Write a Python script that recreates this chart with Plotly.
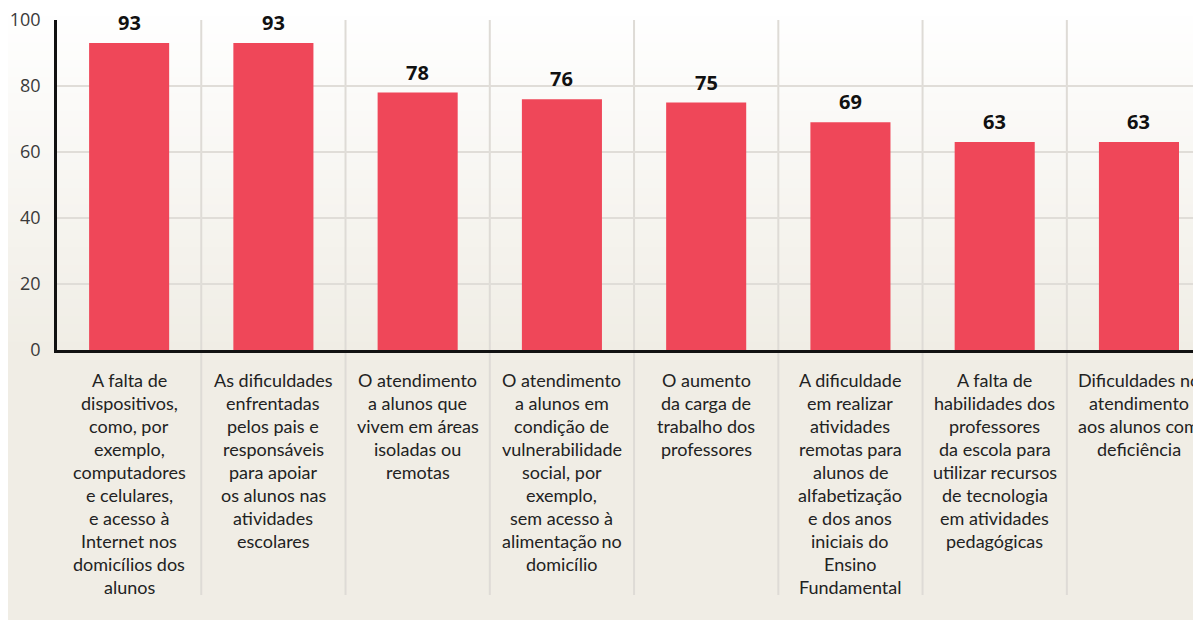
import plotly.graph_objects as go

categories = [
    ["A falta de", "dispositivos,", "como, por", "exemplo,", "computadores", "e celulares,",
     "e acesso à", "Internet nos", "domicílios dos", "alunos"],
    ["As dificuldades", "enfrentadas", "pelos pais e", "responsáveis", "para apoiar",
     "os alunos nas", "atividades", "escolares"],
    ["O atendimento", "a alunos que", "vivem em áreas", "isoladas ou", "remotas"],
    ["O atendimento", "a alunos em", "condição de", "vulnerabilidade", "social, por",
     "exemplo,", "sem acesso à", "alimentação no", "domicílio"],
    ["O aumento", "da carga de", "trabalho dos", "professores"],
    ["A dificuldade", "em realizar", "atividades", "remotas para", "alunos de",
     "alfabetização", "e dos anos", "iniciais do", "Ensino", "Fundamental"],
    ["A falta de", "habilidades dos", "professores", "da escola para", "utilizar recursos",
     "de tecnologia", "em atividades", "pedagógicas"],
    ["Dificuldades no", "atendimento", "aos alunos com", "deficiência"],
]
values = [93, 93, 78, 76, 75, 69, 63, 63]
y_ticks = [0, 20, 40, 60, 80, 100]

BAR_COLOR = "#EF4759"
# page body has an 8px margin, so the figure itself is 8px smaller
W, H = 1193, 617
ML, MT, MB = 49, 12, 275
PLOT_W = W - ML
PLOT_H = H - MT - MB


def to_py(py):
    # figure pixel row -> paper y
    return (H - MB - py) / PLOT_H


def to_px(px):
    return (px - ML) / PLOT_W


x = list(range(len(values)))

fig = go.Figure(go.Bar(
    x=x, y=values,
    width=0.555,
    marker=dict(color=BAR_COLOR, line=dict(width=0)),
    hoverinfo="skip",
))

shapes = []
# soft vertical gradient background (white -> beige)
top_c = (255, 255, 255)
bot_c = (240, 237, 229)
n = 40
for i in range(n):
    t = (i + 0.5) / n
    c = tuple(round(top_c[k] + (bot_c[k] - top_c[k]) * t) for k in range(3))
    y0 = 342 * i / n
    y1 = 342 * (i + 1) / n + 1
    shapes.append(dict(type="rect", xref="paper", yref="paper",
                       x0=to_px(0), x1=to_px(W + 5),
                       y0=to_py(y1), y1=to_py(y0),
                       fillcolor="rgb(%d,%d,%d)" % c, line=dict(width=0), layer="below"))
shapes.append(dict(type="rect", xref="paper", yref="paper",
                   x0=to_px(0), x1=to_px(W + 5),
                   y0=to_py(612), y1=to_py(342),
                   fillcolor="rgb(%d,%d,%d)" % bot_c, line=dict(width=0), layer="below"))
# category separators
for i in range(len(values)):
    shapes.append(dict(type="line", xref="x", yref="paper",
                       x0=i + 0.5, x1=i + 0.5, y0=to_py(587), y1=1,
                       line=dict(color="#dedbd6", width=2), layer="below"))

annotations = []
for i, v in enumerate(values):
    annotations.append(dict(x=i, y=v, xref="x", yref="y", text="<b>%d</b>" % v,
                            showarrow=False, yanchor="bottom", yshift=5,
                            font=dict(family="Open Sans", size=20, color="#111111")))
    for j, line in enumerate(categories[i]):
        annotations.append(dict(x=i, y=to_py(372 + 23 * j), xref="x", yref="paper",
                                text=line, showarrow=False, yanchor="middle",
                                xanchor="center",
                                font=dict(family="Lato", size=18, color="#222222")))

fig.update_layout(
    width=W, height=H,
    margin=dict(l=ML, r=0, t=MT, b=MB),
    paper_bgcolor="white",
    plot_bgcolor="rgba(0,0,0,0)",
    showlegend=False,
    shapes=shapes,
    annotations=annotations,
    xaxis=dict(range=[-0.5, 7.43], showticklabels=False, showgrid=False,
               zeroline=False, showline=True, linecolor="#111111", linewidth=3,
               fixedrange=True),
    yaxis=dict(range=[0, 100], tickvals=y_ticks, showgrid=True,
               gridcolor="#e0ddd8", gridwidth=2, zeroline=False,
               showline=True, linecolor="#111111", linewidth=2.5,
               ticks="", ticklabelstandoff=10, ticklabeloverflow="allow",
               tickfont=dict(family="Open Sans", size=18, color="#3a3a3a"),
               fixedrange=True),
)

fig.write_html("out.html")
